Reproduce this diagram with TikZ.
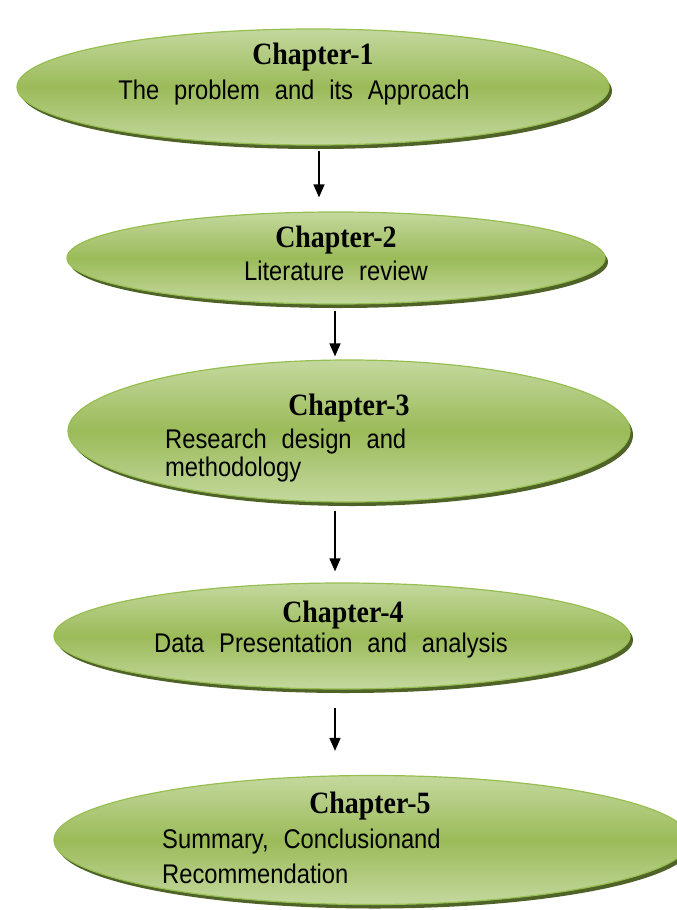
\documentclass[tikz,border=0pt]{standalone}
\usepackage{fontspec}
\setmainfont{Liberation Serif}[FakeStretch=0.9]
\setsansfont{Liberation Sans}[FakeStretch=0.88]
\usetikzlibrary{arrows.meta,positioning,calc,shapes.geometric,shadows}
\definecolor{leafhi}{RGB}{196,216,158}
\definecolor{leafmid}{RGB}{155,187,89}
\definecolor{leafdk}{RGB}{79,98,40}
\definecolor{leafrim}{RGB}{150,190,80}
\newcommand{\chapfont}{\fontsize{31}{33}\selectfont\bfseries}
\newcommand{\bodyfont}{\fontsize{27}{28}\sffamily\spaceskip=0.55em plus 0.1em\relax}
\tikzset{
  >={Triangle[length=13pt,width=11pt]},
  chap/.style ={ellipse, draw=leafrim, line width=1.2pt, inner sep=0pt,
                top color=leafhi, bottom color=leafhi, middle color=leafmid,
                drop shadow={shadow xshift=3pt, shadow yshift=-4pt,
                             fill=leafdk, opacity=1}},
  ttl/.style  ={font=\chapfont, inner sep=0pt},
  txt/.style  ={font=\bodyfont, inner sep=0pt, align=left},
  con/.style  ={->, draw, line width=1.5pt},
}
\begin{document}
\begin{tikzpicture}[x=1pt,y=-1pt]
\useasboundingbox (0,0) rectangle (677,910);
\node[chap, minimum width=592pt, minimum height=116pt] (ch1) at (313,87)  {};
\node[chap, minimum width=538pt, minimum height=92pt]  (ch2) at (336,258) {};
\node[chap, minimum width=562pt, minimum height=142pt] (ch3) at (349,431) {};
\node[chap, minimum width=576pt, minimum height=106pt] (ch4) at (342,636) {};
\node[chap, minimum width=636pt, minimum height=129pt] (ch5) at (372,840) {};
% titles and contents
\node[ttl] (t1) at (313,57)  {Chapter-1};
\node[txt] (b1) at (294,93)  {The problem and its Approach};
\node[ttl] (t2) at (336,240) {Chapter-2};
\node[txt] (b2) at (336,271) {Literature review};
\node[ttl] (t3) at (349,408) {Chapter-3};
\node[txt, anchor=west] (b3) at (165,456) {Research design and\\methodology};
\node[ttl] (t4) at (343,615) {Chapter-4};
\node[txt] (b4) at (331,646) {Data Presentation and analysis};
\node[ttl] (t5) at (370,806) {Chapter-5};
\node[txt, anchor=west] (b5) at (162,856) {Summary, Conclusionand\\[7pt]Recommendation};
% connectors
\coordinate (ax1) at (319,0);
\coordinate (ax2) at (335,0);
\draw[con] ($(ch1.south -| ax1)+(0,5)$) -- ($(ch2.north -| ax1)+(0,-14)$);
\draw[con] ($(ch2.south -| ax2)+(0,6)$) -- ($(ch3.north -| ax2)+(0,-3)$);
\draw[con] ($(ch3.south -| ax2)+(0,8)$) -- ($(ch4.north -| ax2)+(0,-11)$);
\draw[con] ($(ch4.south -| ax2)+(0,18)$) -- ($(ch5.north -| ax2)+(0,-24)$);
\end{tikzpicture}
\end{document}
